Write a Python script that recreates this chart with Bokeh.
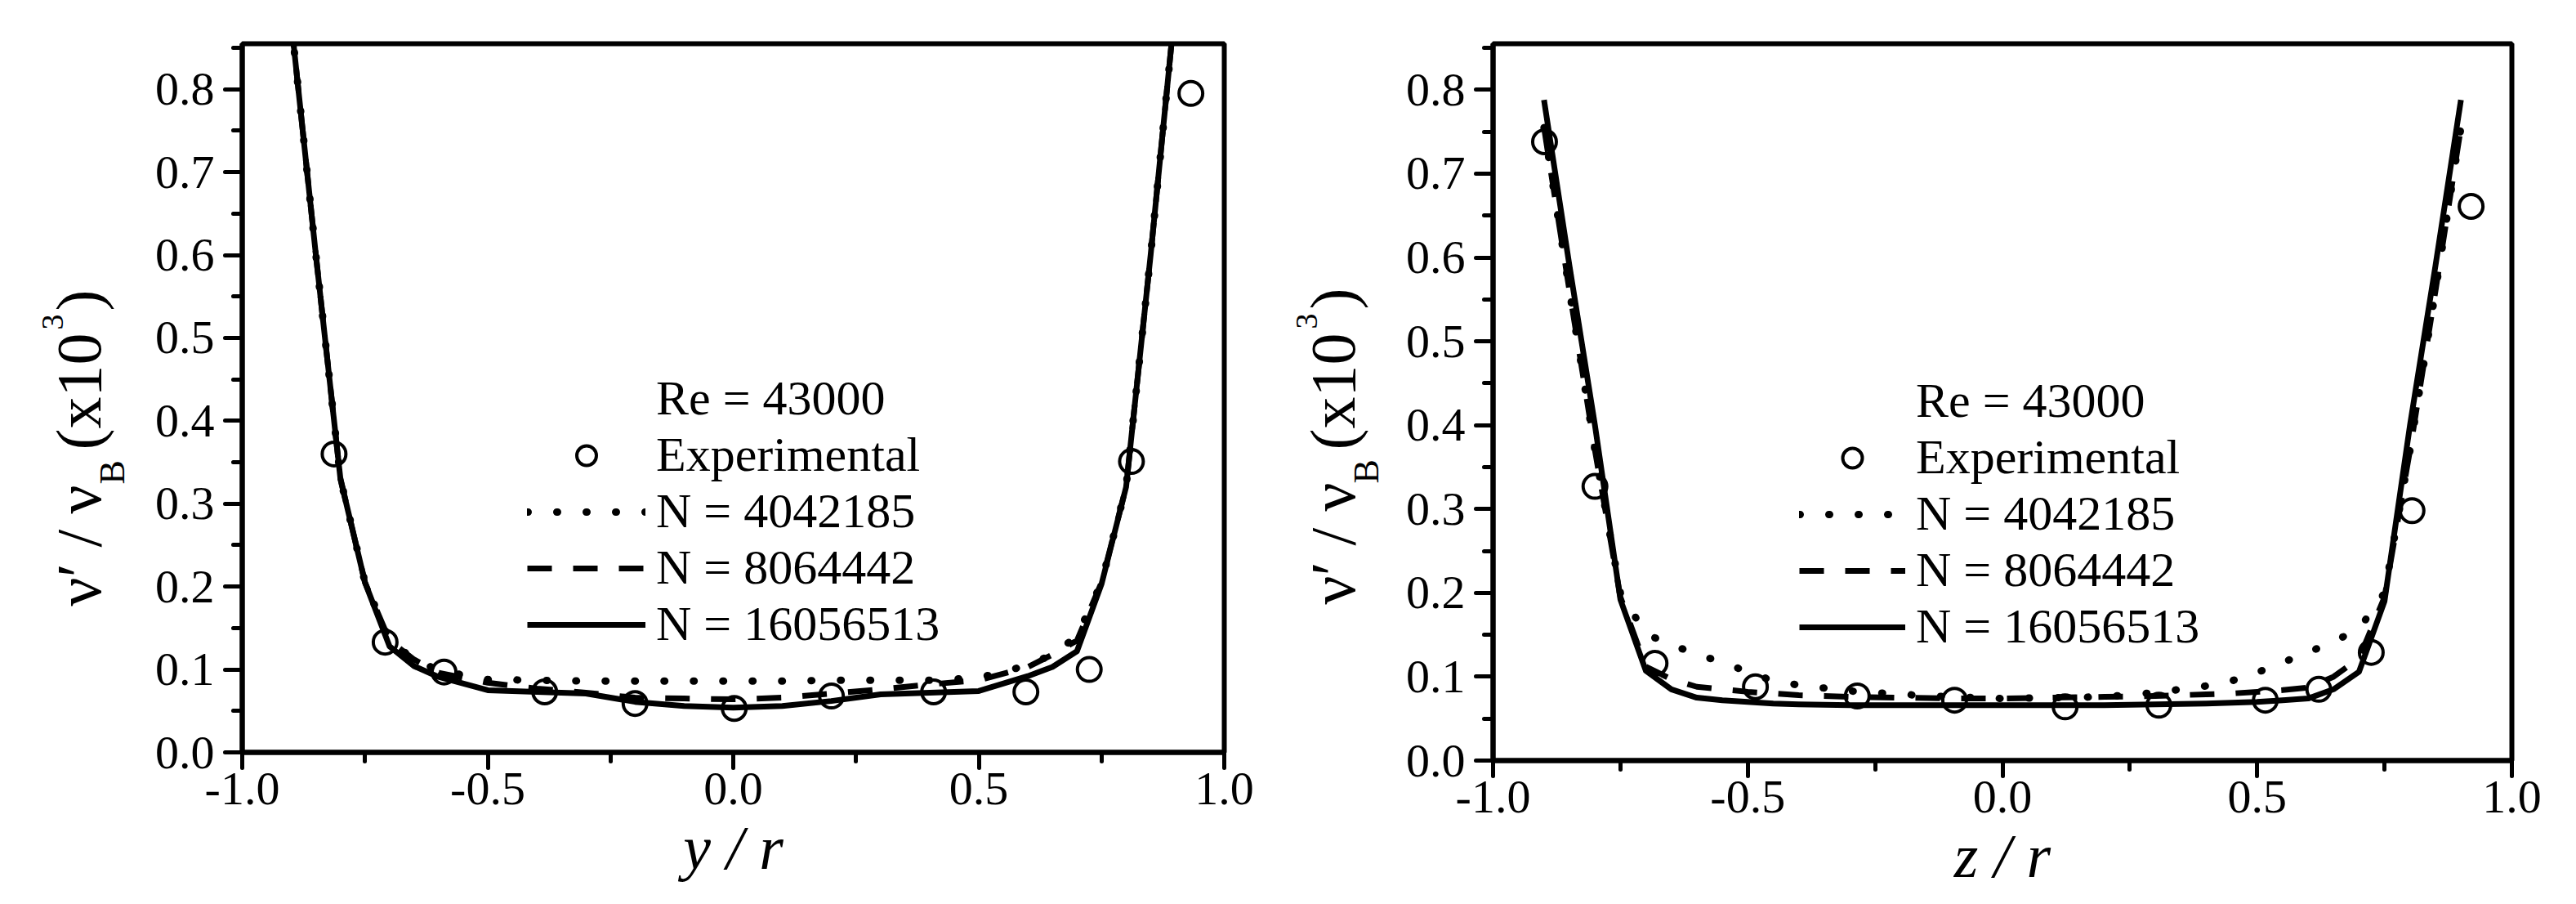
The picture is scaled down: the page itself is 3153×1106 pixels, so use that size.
import numpy as np
from bokeh.plotting import figure
from bokeh.models import (FixedTicker, PrintfTickFormatter, Legend, LegendItem,
                          Range1d, ColumnDataSource)
from bokeh.core.properties import value, field
from bokeh.layouts import row
from bokeh.embed import file_html
from bokeh.resources import INLINE

FONT = "Liberation Serif"

# ---------------- data: left panel (y / r) ----------------
sim_y_pos = [-0.9, -0.85, -0.8, -0.75, -0.7, -0.65, -0.6, -0.5, -0.4, -0.3, -0.2, -0.1,
             0.0, 0.1, 0.2, 0.3, 0.4, 0.5, 0.6, 0.65, 0.7, 0.75, 0.8, 0.85, 0.9]
sim_y_n4042185 = [0.88, 0.60, 0.33, 0.205, 0.135, 0.112, 0.099, 0.088, 0.087, 0.086, 0.086, 0.086,
                  0.086, 0.086, 0.087, 0.087, 0.087, 0.090, 0.105, 0.118, 0.140, 0.205, 0.32, 0.60, 0.90]
sim_y_n8064442 = [0.88, 0.60, 0.33, 0.205, 0.135, 0.112, 0.096, 0.084, 0.077, 0.072, 0.066, 0.065,
                  0.064, 0.066, 0.071, 0.076, 0.082, 0.087, 0.103, 0.118, 0.135, 0.205, 0.32, 0.60, 0.90]
sim_y_n16056513 = [0.88, 0.60, 0.33, 0.205, 0.128, 0.104, 0.091, 0.075, 0.073, 0.071, 0.061, 0.056,
                   0.054, 0.056, 0.062, 0.070, 0.072, 0.074, 0.092, 0.103, 0.122, 0.203, 0.32, 0.60, 0.90]
exp_y_pos = [-0.813, -0.709, -0.589, -0.384, -0.200, 0.002, 0.200, 0.408, 0.596, 0.725, 0.811, 0.932]
exp_y_val = [0.360, 0.133, 0.097, 0.073, 0.059, 0.053, 0.068, 0.073, 0.073, 0.100, 0.351, 0.795]

# ---------------- data: right panel (z / r) ----------------
sim_z_pos = [-0.9, -0.85, -0.8, -0.75, -0.7, -0.65, -0.6, -0.55, -0.5, -0.45, -0.4, -0.3, -0.2, -0.1,
             0.0, 0.1, 0.2, 0.3, 0.4, 0.45, 0.5, 0.55, 0.6, 0.65, 0.7, 0.75, 0.8, 0.85, 0.9]
sim_z_n4042185 = [0.755, 0.56, 0.37, 0.200, 0.151, 0.138, 0.127, 0.117, 0.106, 0.095, 0.090, 0.083, 0.079, 0.076,
                  0.074, 0.075, 0.076, 0.081, 0.089, 0.095, 0.105, 0.117, 0.129, 0.142, 0.157, 0.200, 0.37, 0.56, 0.755]
sim_z_n8064442 = [0.755, 0.56, 0.37, 0.195, 0.112, 0.097, 0.088, 0.085, 0.082, 0.080, 0.078, 0.076, 0.075, 0.074,
                  0.074, 0.075, 0.076, 0.077, 0.079, 0.080, 0.082, 0.084, 0.087, 0.100, 0.122, 0.195, 0.37, 0.56, 0.755]
sim_z_n16056513 = [0.788, 0.59, 0.40, 0.192, 0.107, 0.085, 0.075, 0.072, 0.070, 0.068, 0.067, 0.066, 0.066, 0.066,
                   0.066, 0.066, 0.066, 0.067, 0.068, 0.069, 0.070, 0.072, 0.074, 0.085, 0.106, 0.190, 0.40, 0.59, 0.788]
exp_z_pos = [-0.899, -0.800, -0.682, -0.485, -0.285, -0.094, 0.123, 0.307, 0.516, 0.621, 0.724, 0.804, 0.920]
exp_z_val = [0.738, 0.327, 0.116, 0.088, 0.077, 0.072, 0.064, 0.066, 0.072, 0.085, 0.129, 0.298, 0.661]

# ---------------- ticks & labels ----------------
x_ticks = [-1.0, -0.5, 0.0, 0.5, 1.0]
x_minor = [-0.75, -0.25, 0.25, 0.75]
y_ticks = [0.0, 0.1, 0.2, 0.3, 0.4, 0.5, 0.6, 0.7, 0.8]
y_minor = [0.05, 0.15, 0.25, 0.35, 0.45, 0.55, 0.65, 0.75, 0.85]
legend_title = "Re = 43000"
legend_labels = ["Experimental", "N = 4042185", "N = 8064442", "N = 16056513"]
y_label_parts = ["ν′", "/", "ν", "B", "(x10", "3", ")"]
Y_TOP = 0.855

# layout of the rotated y title pieces (font px, advance in em, baseline shift px)
PIECE_SIZE = [78, 78, 78, 44, 78, 38, 78]
PIECE_EM = [0.77, 0.278, 0.5, 0.667, 1.833, 0.5, 0.333]
PIECE_SHIFT = [0, 0, 0, 30, 0, -45, 0]
Y_CORR = 48   # empirical correction of the rotated text placement (px, upward)
BOTTOM = 175


def make_ytitle(width, height, x_base, starts):
    """Rotated y-axis title (with subscript / superscript) in a narrow strip."""
    t = figure(frame_width=width, frame_height=height, title=None,
               x_range=Range1d(0, width), y_range=Range1d(0, height),
               x_axis_type=None, y_axis_type=None, min_border=0,
               output_backend="svg", toolbar_location=None, align="start")
    t.grid.visible = False
    t.outline_line_color = None
    t.background_fill_color = "white"
    t.border_fill_color = "white"
    xs, ys = [], []
    for sz, em, sh, st in zip(PIECE_SIZE, PIECE_EM, PIECE_SHIFT, starts):
        xs.append(x_base + sh - 0.3375 * sz)                 # centre of text box (rotated)
        ys.append(height - (st - em * sz / 2.0) + Y_CORR)    # centre along reading direction
    src = ColumnDataSource(dict(x=xs, y=ys, text=y_label_parts,
                                size=["%dpx" % s for s in PIECE_SIZE]))
    t.text(x="x", y="y", text="text", source=src, angle=np.pi / 2,
           text_font=value(FONT), text_font_size=field("size"),
           text_color="black", text_align="center", text_baseline="middle")
    return t


def make_panel(xlabel, pos, d1, d2, d3, ex, ev, fw, fh, bl, bt, br, leg_loc, glyph_w):
    p = figure(frame_width=fw, frame_height=fh,
               x_range=Range1d(-1.0, 1.0), y_range=Range1d(0.0, Y_TOP),
               output_backend="svg", toolbar_location=None, align="start",
               min_border_left=bl, min_border_top=bt, min_border_right=br,
               min_border_bottom=BOTTOM)
    p.grid.visible = False
    p.background_fill_color = "white"
    p.border_fill_color = "white"
    p.outline_line_color = "black"
    p.outline_line_width = 6
    p.outline_line_alpha = 1.0

    for ax, ticks, minor, tout in ((p.xaxis[0], x_ticks, x_minor, 19),
                                   (p.yaxis[0], y_ticks, y_minor, 21)):
        ax.ticker = FixedTicker(ticks=ticks, minor_ticks=minor)
        ax.formatter = PrintfTickFormatter(format="%.1f")
        ax.axis_line_width = 6
        ax.axis_line_color = "black"
        ax.major_tick_line_width = 5
        ax.minor_tick_line_width = 5
        ax.major_tick_line_cap = "round"
        ax.minor_tick_line_cap = "round"
        ax.major_tick_in = 0
        ax.minor_tick_in = 0
        ax.major_tick_out = tout
        ax.minor_tick_out = 11
        ax.major_label_text_font = FONT
        ax.major_label_text_font_size = "58px"
        ax.major_label_text_color = "black"

    p.xaxis.major_label_standoff = 6
    p.yaxis.major_label_standoff = 13
    p.xaxis.axis_label = xlabel
    p.xaxis.axis_label_text_font = FONT
    p.xaxis.axis_label_text_font_style = "italic"
    p.xaxis.axis_label_text_font_size = "76px"
    p.xaxis.axis_label_text_color = "black"
    p.xaxis.axis_label_standoff = 8

    r_dot = p.line(pos, d1, line_color="black", line_width=9, line_dash="1 35",
                   line_cap="round", line_join="round")
    r_dash = p.line(pos, d2, line_color="black", line_width=7, line_dash="30 26",
                    line_join="round")
    r_solid = p.line(pos, d3, line_color="black", line_width=7, line_join="round")
    r_exp = p.scatter(ex, ev, marker="circle", size=29, line_color="black",
                      line_width=4, fill_alpha=0)
    r_title = p.line(x=[], y=[], line_alpha=0)

    legend = Legend(items=[LegendItem(label=legend_title, renderers=[r_title]),
                           LegendItem(label=legend_labels[0], renderers=[r_exp]),
                           LegendItem(label=legend_labels[1], renderers=[r_dot]),
                           LegendItem(label=legend_labels[2], renderers=[r_dash]),
                           LegendItem(label=legend_labels[3], renderers=[r_solid])],
                    location=leg_loc, orientation="vertical",
                    label_text_font=FONT, label_text_font_size="60px",
                    label_text_color="black",
                    glyph_width=glyph_w, glyph_height=60, label_height=60,
                    label_standoff=13, spacing=0, padding=0, margin=0,
                    border_line_alpha=0, background_fill_alpha=0)
    p.add_layout(legend)
    return p


H1 = 53 + 867 + BOTTOM
H2 = 44 + 877 + BOTTOM
# strip 1: x 0..185 | panel 1: frame 296..1498 | strip 2: 1558..1710 | panel 2: frame 1827..3074
t1 = make_ytitle(185, H1, 122, [740, 664, 625, 587, 545, 398, 375])
p1 = make_panel("y / r", sim_y_pos, sim_y_n4042185, sim_y_n8064442, sim_y_n16056513,
                exp_y_pos, exp_y_val, 1202, 867, 111, 53, 60, (349, 122), 145)
t2 = make_ytitle(152, H2, 99, [738, 662, 622, 586, 545, 397, 373])
p2 = make_panel("z / r", sim_z_pos, sim_z_n4042185, sim_z_n8064442, sim_z_n16056513,
                exp_z_pos, exp_z_val, 1247, 877, 117, 44, 62, (375, 129), 130)

layout = row(t1, p1, t2, p2, align="start")
open("out.html", "w").write(file_html(layout, INLINE))
